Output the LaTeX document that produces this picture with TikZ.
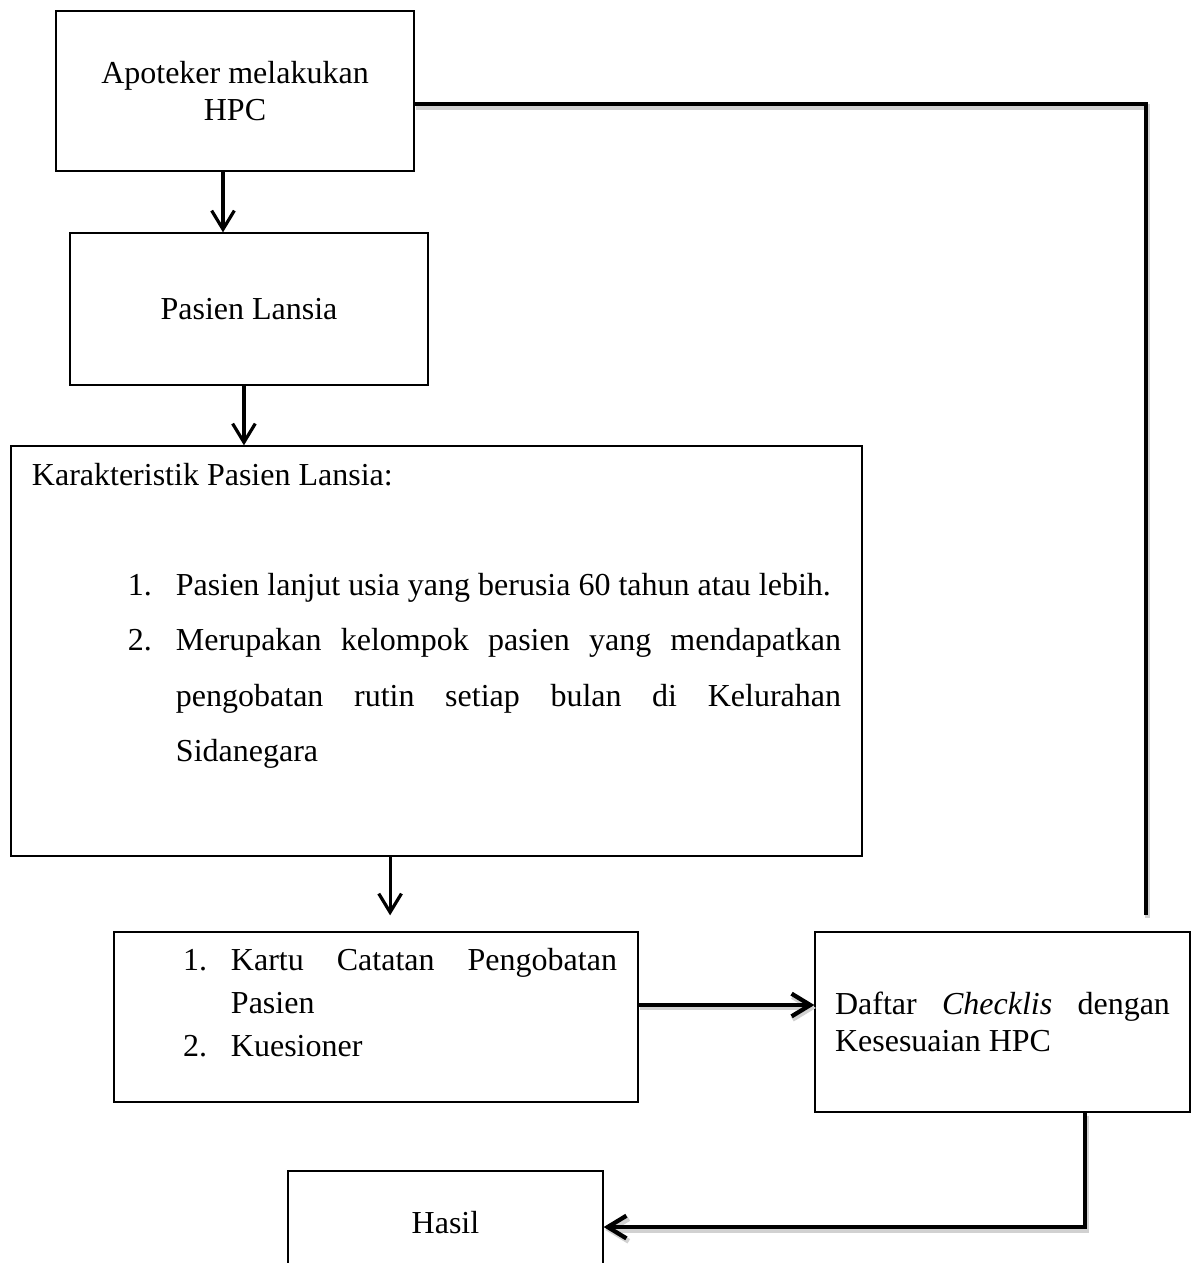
\documentclass[tikz,border=0pt]{standalone}
\usepackage{fontspec}
\setmainfont{Liberation Serif}
\usetikzlibrary{arrows.meta,positioning}
\tikzset{
  box/.style={draw=black,line width=0.5pt,minimum width=134.25pt,inner xsep=7.9pt,inner ysep=0pt,align=center,font=\fontsize{12}{13.9}\selectfont},
  listbox/.style={draw=black,line width=0.5pt,inner xsep=7.9pt,inner ysep=0pt,font=\fontsize{12}{16.1}\selectfont},
  shadow/.style={preaction={draw=black!18,line width=1.9pt,transform canvas={shift={(0.6pt,-1.1pt)}}}},
  arr/.style={-{Straight Barb[length=7pt,width=8.5pt]},line width=1.2pt},
  bus/.style={-{Straight Barb[length=7pt,width=8.5pt]},line width=1.6pt,shadow},
  link/.style={line width=1.6pt,shadow}
}
\newcommand{\numitem}[1]{\noindent\llap{\makebox[18pt][l]{#1}}}

\begin{document}
\begin{tikzpicture}[x=0.375pt,y=-0.375pt]
\useasboundingbox (0,0) rectangle (1192,1263);
% boxes
\node[box,minimum height=60pt] (apt) at (235,91) {Apoteker melakukan\\HPC};
\node[box,minimum height=57pt] (pasien) at (249,309) {Pasien Lansia};
\node[listbox] (ciri) at (436.5,651) {\parbox[c][153.75pt][t]{303.4pt}{%
  \fontsize{12}{20.7}\selectfont\parindent=0pt\hyphenpenalty=10000\tolerance=10000
  \vspace*{6.4pt}Karakteristik Pasien Lansia:\par
  \vspace{20.7pt}
  {\leftskip=54pt
  \numitem{1.}Pasien lanjut usia yang berusia 60 tahun atau lebih.\par
  \numitem{2.}Merupakan kelompok pasien yang mendapatkan\linebreak pengobatan rutin setiap bulan di Kelurahan\linebreak Sidanegara\par}}};
\node[listbox] (kartu) at (376,1017) {\parbox[c][63.75pt][t]{180.75pt}{%
  \parindent=0pt\leftskip=36pt\hyphenpenalty=10000\tolerance=10000
  \vspace*{6.05pt}\numitem{1.}Kartu Catatan Pengobatan\linebreak Pasien\par
  \numitem{2.}Kuesioner\par}};
\node[box,minimum width=140.6pt,minimum height=67.5pt,text width=125.6pt,inner xsep=7.5pt,align=justify] (daftar) at (1002.5,1022) {Daftar \textit{Checklis} dengan\linebreak Kesesuaian HPC};
\node[box,minimum width=118.1pt,minimum height=38.6pt] (hasil) at (445.5,1222.5) {Hasil};
% connectors
\draw[arr] ([xshift=-4.5pt]apt.south) -- ([xshift=-4.5pt]apt.south |- pasien.north);
\draw[arr] ([xshift=-1.9pt]pasien.south) -- ([xshift=-1.9pt]pasien.south |- ciri.north);
\draw[arr,shorten >=6pt] ([xshift=-17.4pt]ciri.south) -- ([xshift=-17.4pt]ciri.south |- kartu.north);
\draw[bus] ([yshift=4.5pt]kartu.east) -- ([yshift=4.5pt]kartu.east -| daftar.west);
\draw[link] ([yshift=-4.9pt]apt.east) -| ([xshift=53.8pt,yshift=6pt]daftar.north);
\draw[bus] ([xshift=30.9pt]daftar.south) |- ([yshift=-1.7pt]hasil.east);
\end{tikzpicture}
\end{document}
